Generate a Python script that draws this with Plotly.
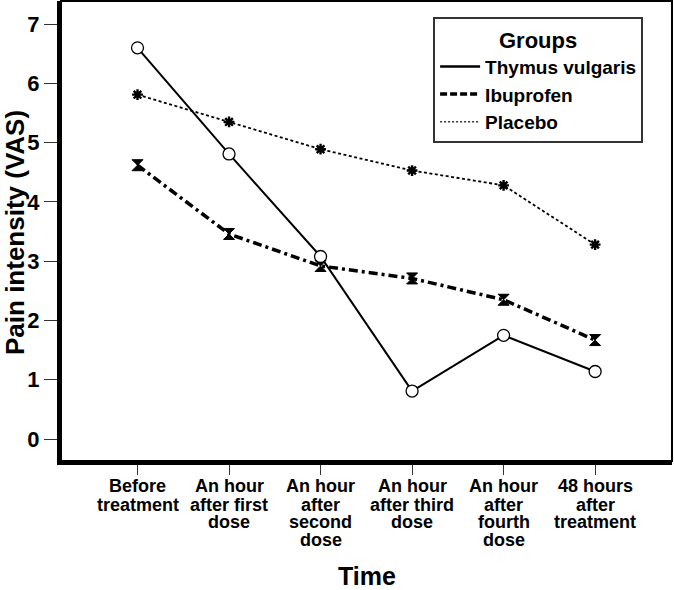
import plotly.graph_objects as go

# ---- data ----
time_labels = [
    "Before<br>treatment",
    "An hour<br>after first<br>dose",
    "An hour<br>after<br>second<br>dose",
    "An hour<br>after third<br>dose",
    "An hour<br>after<br>fourth<br>dose",
    "48 hours<br>after<br>treatment",
]
thymus = [6.60, 4.81, 3.08, 0.81, 1.75, 1.14]
ibuprofen = [4.62, 3.46, 2.92, 2.71, 2.35, 1.67]
placebo = [5.81, 5.35, 4.89, 4.53, 4.28, 3.28]
y_ticks = [0, 1, 2, 3, 4, 5, 6, 7]

FONT = "Liberation Sans, Arial, sans-serif"
x_idx = list(range(len(time_labels)))

fig = go.Figure()

# data traces
fig.add_trace(go.Scatter(
    x=x_idx, y=placebo, mode="lines+markers", showlegend=False,
    line=dict(color="black", width=1.8, dash="3px,2.5px"),
    marker=dict(symbol="asterisk-open", size=9, color="black",
                line=dict(color="black", width=2.4)),
))
fig.add_trace(go.Scatter(
    x=x_idx, y=ibuprofen, mode="lines+markers", showlegend=False,
    line=dict(color="black", width=3.5, dash="9px,4px,3px,4px"),
    marker=dict(symbol="hourglass", size=11, color="black",
                line=dict(color="black", width=1)),
))
fig.add_trace(go.Scatter(
    x=x_idx, y=thymus, mode="lines+markers", showlegend=False,
    line=dict(color="black", width=2),
    marker=dict(symbol="circle", size=12, color="white",
                line=dict(color="black", width=1.3)),
))

# legend-only traces (lines without markers, as in the reference)
fig.add_trace(go.Scatter(x=[None], y=[None], mode="lines", name="Thymus vulgaris",
                         line=dict(color="black", width=2.5)))
fig.add_trace(go.Scatter(x=[None], y=[None], mode="lines", name="Ibuprofen",
                         line=dict(color="black", width=3.5, dash="7px,3px")))
fig.add_trace(go.Scatter(x=[None], y=[None], mode="lines", name="Placebo",
                         line=dict(color="#333", width=1.5, dash="2px,2px")))

annotations = []
# x category labels, one annotation per line for tight line spacing
line_centers = [25.2, 43.5, 61.2, 79.0]
for i, lab in enumerate(time_labels):
    for j, part in enumerate(lab.split("<br>")):
        annotations.append(dict(
            x=i, xref="x", y=0, yref="paper", text=part, showarrow=False,
            xanchor="center", yanchor="middle", yshift=-line_centers[j],
            font=dict(family=FONT, size=18, color="black", weight="bold"),
        ))
# axis titles
annotations.append(dict(
    x=0, xref="paper", y=0.5, yref="paper", xshift=-46, yshift=-2,
    text="Pain intensity (VAS)", textangle=-90, showarrow=False,
    xanchor="center", yanchor="middle",
    font=dict(family=FONT, size=26, color="black", weight="bold"),
))
annotations.append(dict(
    x=0.5, xref="paper", y=0, yref="paper", yshift=-115,
    text="Time", showarrow=False, xanchor="center", yanchor="middle",
    font=dict(family=FONT, size=25, color="black", weight="bold"),
))

fig.update_layout(
    width=674, height=590,
    margin=dict(l=61, r=2, t=1, b=128.5),
    paper_bgcolor="white", plot_bgcolor="white",
    font=dict(family=FONT, color="black"),
    xaxis=dict(
        range=[-0.836, 5.84], tickvals=x_idx, showticklabels=False,
        ticks="outside", ticklen=10, tickwidth=1.3, tickcolor="#333",
        showline=True, linewidth=4, linecolor="black",
        showgrid=False, zeroline=False,
    ),
    yaxis=dict(
        range=[-0.37, 7.39], tickvals=y_ticks,
        ticks="outside", ticklen=13, tickwidth=1.3, tickcolor="#333",
        tickfont=dict(family=FONT, size=22, color="black", weight="bold"),
        showline=True, linewidth=4, linecolor="black",
        showgrid=False, zeroline=False,
    ),
    legend=dict(
        x=0.609, y=0.9653, xanchor="left", yanchor="top",
        bordercolor="#333", borderwidth=2, bgcolor="white",
        font=dict(family=FONT, size=19, color="black", weight="bold"),
        title=dict(text="Groups", side="top center",
                   font=dict(family=FONT, size=22, color="black", weight="bold")),
        itemwidth=40, tracegroupgap=0,
        entrywidth=179, entrywidthmode="pixels",
    ),
    shapes=[dict(type="rect", xref="paper", yref="paper", x0=0, x1=1, y0=0, y1=1,
                 line=dict(color="black", width=2), layer="above")],
    annotations=annotations,
)

fig.write_html("out.html", config={"displayModeBar": False},
               post_script="document.body.style.margin='0';")
